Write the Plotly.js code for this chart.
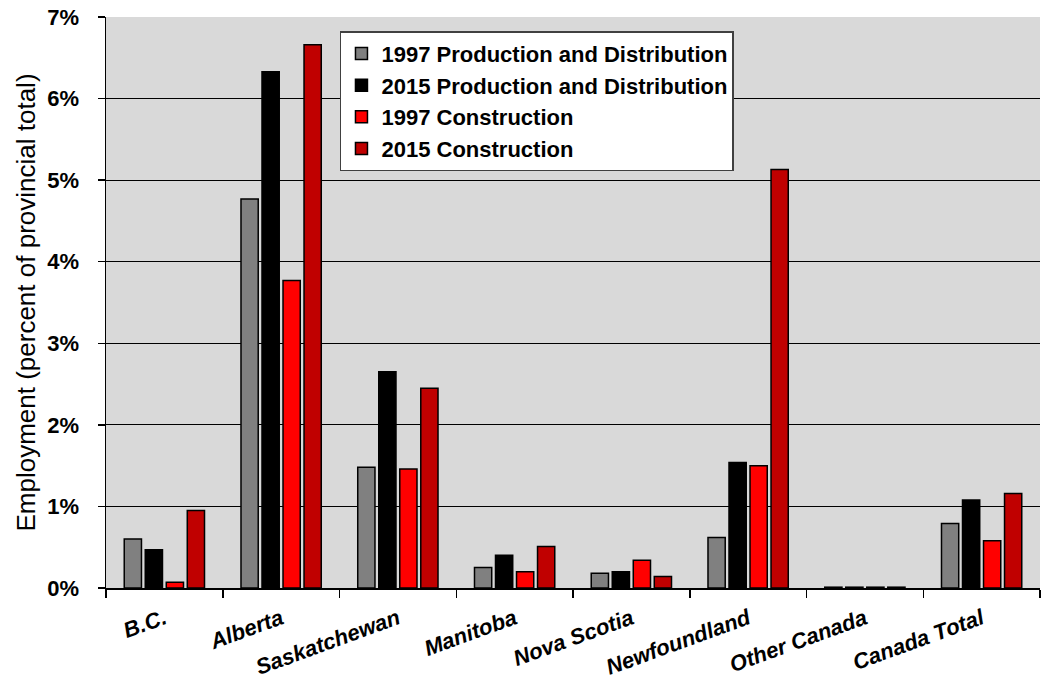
<!DOCTYPE html>
<html><head><meta charset="utf-8">
<script src="https://cdn.plot.ly/plotly-3.0.1.min.js"></script>
<style>html,body{margin:0;padding:0;background:#fff}#chart{width:1042px;height:682px}</style>
</head><body><div id="chart"></div>
<script>
const categories = ["B.C.", "Alberta", "Saskatchewan", "Manitoba", "Nova Scotia", "Newfoundland", "Other Canada", "Canada Total"];
const seriesNames = ["1997 Production and Distribution", "2015 Production and Distribution", "1997 Construction", "2015 Construction"];
const prod1997 = [0.60, 4.77, 1.48, 0.25, 0.18, 0.62, 0.01, 0.79];
const prod2015 = [0.47, 6.33, 2.65, 0.40, 0.20, 1.54, 0.01, 1.08];
const cons1997 = [0.07, 3.77, 1.46, 0.20, 0.34, 1.50, 0.01, 0.58];
const cons2015 = [0.95, 6.66, 2.45, 0.51, 0.14, 5.13, 0.01, 1.16];
const yTickVals = [0, 1, 2, 3, 4, 5, 6, 7];
const yTickText = ["0%", "1%", "2%", "3%", "4%", "5%", "6%", "7%"];
const colors = ["#808080", "#000000", "#ff0000", "#c00000"];
const allValues = [prod1997, prod2015, cons1997, cons2015];

const traces = allValues.map((vals, i) => ({
  type: "bar",
  name: seriesNames[i],
  x: categories,
  y: vals,
  marker: {color: colors[i], line: {color: "#000000", width: 1.5}}
}));

const layout = {
  width: 1042, height: 682,
  margin: {l: 106, r: 2, t: 17, b: 94},
  paper_bgcolor: "#ffffff",
  plot_bgcolor: "#d9d9d9",
  barmode: "group",
  bargap: 0.28,
  bargroupgap: 0.18,
  font: {family: "Liberation Sans, Arial, sans-serif", color: "#000"},
  xaxis: {
    type: "category",
    tickangle: -20,
    tickson: "boundaries",
    ticks: "outside", ticklen: 8, tickcolor: "#000", tickwidth: 1.5,
    showline: true, linecolor: "#000", linewidth: 1.5,
    tickfont: {size: 22, weight: "bold", style: "italic", color: "#000"},
    ticklabelstandoff: 8,
    showgrid: false
  },
  yaxis: {
    range: [0, 7],
    tickvals: yTickVals, ticktext: yTickText,
    ticks: "outside", ticklen: 7, tickcolor: "#000", tickwidth: 1.5,
    showline: true, linecolor: "#000", linewidth: 1.5,
    showgrid: true, gridcolor: "#000", gridwidth: 1,
    zeroline: false,
    ticklabelstandoff: 14,
    tickfont: {size: 22, weight: "bold", color: "#000"},
    title: {text: "Employment (percent of provincial total)", font: {size: 26, color: "#000"}, standoff: 4}
  },
  legend: {
    x: 0.2505, y: 0.975, xanchor: "left", yanchor: "top",
    bgcolor: "#ffffff", bordercolor: "#404040", borderwidth: 1.5,
    font: {size: 22, weight: "bold", color: "#000"},
    tracegroupgap: 0, itemwidth: 30
  },
  showlegend: true
};

Plotly.newPlot("chart", traces, layout, {displayModeBar: false, staticPlot: true});
</script>
</body></html>
